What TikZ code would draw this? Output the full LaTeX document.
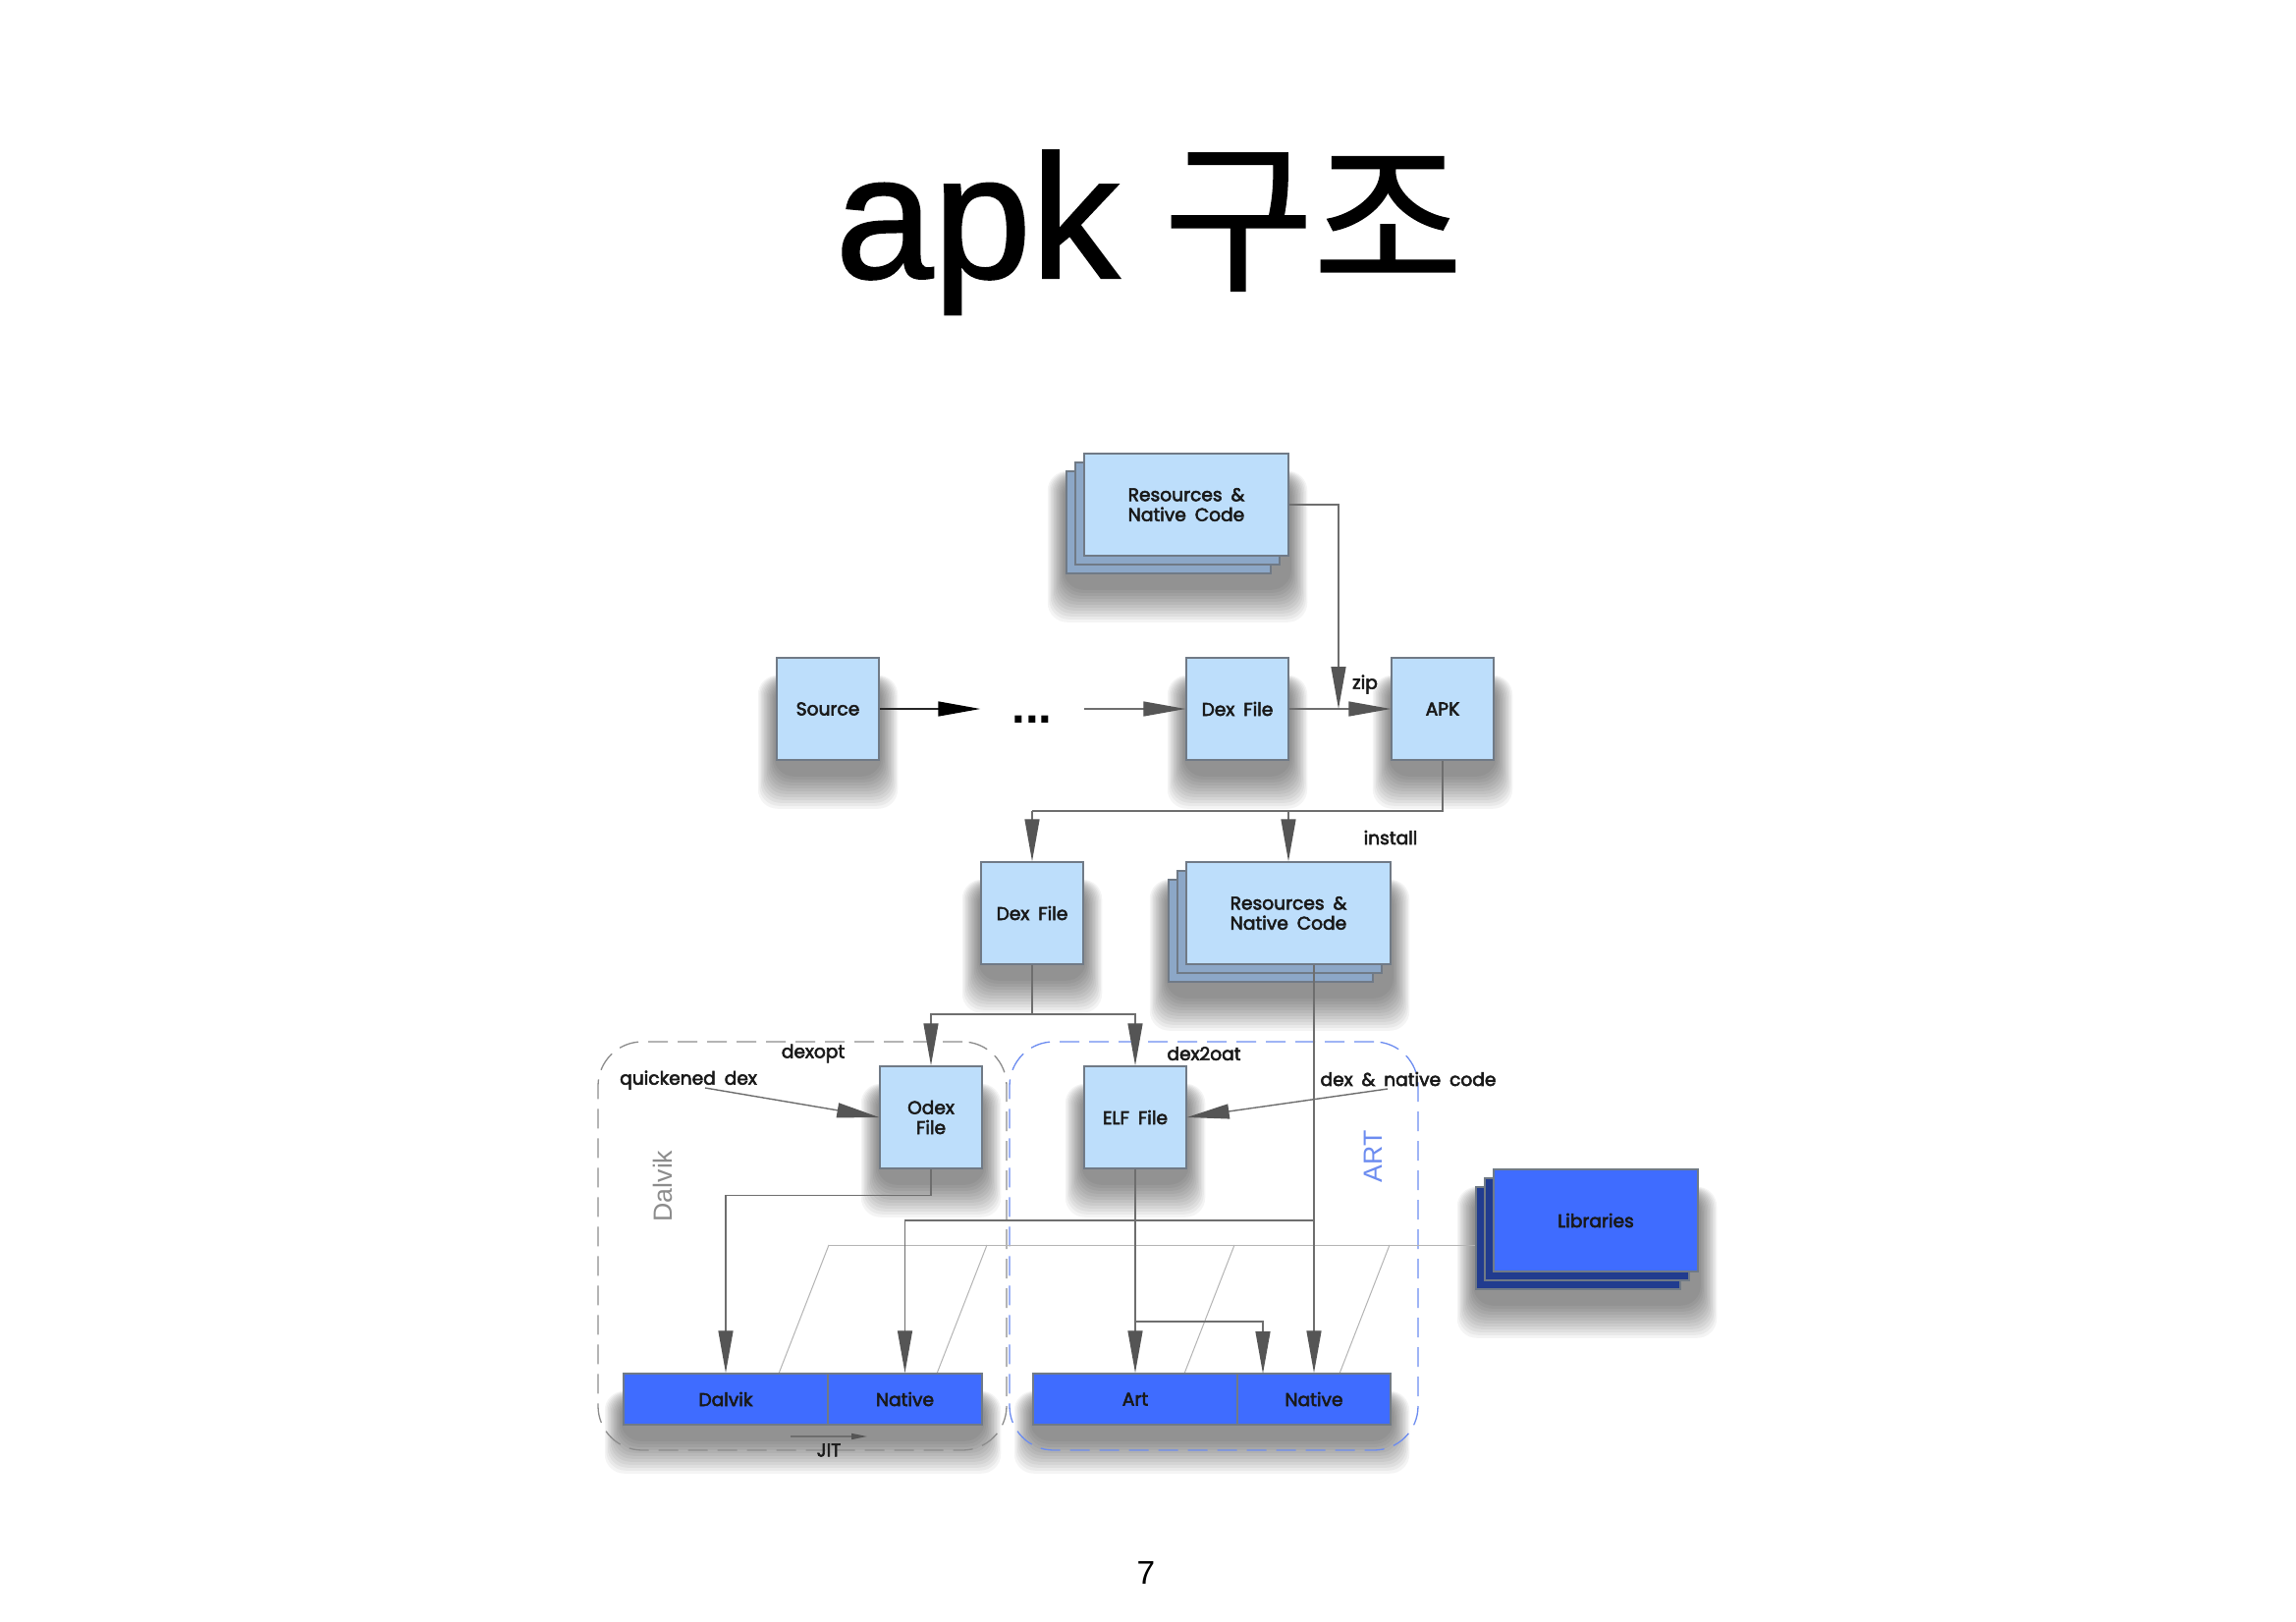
\documentclass[tikz,border=0pt]{standalone}
\usepackage{fontspec}
\usetikzlibrary{arrows.meta, shadows, calc}

\newfontfamily\latfont{Liberation Sans}
\newfontfamily\titlefont[FakeBold=1.2]{Liberation Sans}
\newfontfamily\korfont[FakeBold=1.2]{Noto Sans CJK KR}
\newfontfamily\boxfont[WordSpace=1.8, FakeBold=3]{Poppins}

\definecolor{boxblue}{HTML}{BDDEFB}
\definecolor{stackblue}{HTML}{8CA7C7}
\definecolor{barblue}{HTML}{3F6CFF}
\definecolor{navy}{HTML}{213C8F}
\definecolor{edgegray}{HTML}{707A86}
\definecolor{linegray}{HTML}{6E6E6E}
\definecolor{tipgray}{HTML}{555555}
\definecolor{thingray}{HTML}{B4B4B4}
\definecolor{frameblue}{HTML}{6C8CF0}
\definecolor{framegray}{HTML}{8C8C8C}

\pgfdeclarelayer{bg}
\pgfsetlayers{bg,main}

\tikzset{
  boxbase/.style={line width=0.15mm, inner sep=0pt, align=center,
      text=black!90, font=\boxfont\fontsize{5.3}{5.8}\selectfont},
  filebox/.style={boxbase, draw=edgegray, fill=boxblue,
      minimum width=10.4mm, minimum height=10.4mm},
  stackbox/.style={boxbase, draw=edgegray, fill=boxblue,
      minimum width=20.8mm, minimum height=10.4mm,
      double copy shadow={shadow xshift=-0.9mm, shadow yshift=-0.9mm,
        fill=stackblue, draw=edgegray, line width=0.15mm}},
  libbox/.style={boxbase, draw=edgegray, fill=barblue,
      minimum width=20.8mm, minimum height=10.4mm,
      double copy shadow={shadow xshift=-0.9mm, shadow yshift=-0.9mm,
        fill=navy, draw=edgegray, line width=0.15mm}},
  barcell/.style={boxbase, draw=edgegray, fill=barblue, minimum height=5.2mm},
  grpframe/.style={line width=0.13mm, dash pattern=on 2mm off 1mm,
      rounded corners=4.5mm, inner sep=0pt,
      minimum width=41.6mm, minimum height=41.6mm},
  lbl/.style={inner sep=0pt, text=black!90,
      font=\boxfont\fontsize{5.3}{5.8}\selectfont},
  side/.style={rotate=90, inner sep=0pt, font=\latfont\fontsize{7.6}{7.6}\selectfont},
  line/.style={draw=linegray, line width=0.14mm},
  arr/.style={line, -{Triangle[length=4.3mm, width=1.5mm, color=tipgray]}},
  blackarr/.style={draw=black!85, line width=0.14mm,
      -{Triangle[length=4.3mm, width=1.5mm, color=black]}},
  jitarr/.style={line, -{Triangle[length=1.6mm, width=0.6mm, color=tipgray]}},
  perspline/.style={draw=thingray, line width=0.1mm},
  haze/.style={fill=black, opacity=0.045, rounded corners=2mm}
}

\begin{document}
\begin{tikzpicture}[x=0.1mm, y=-0.1mm]

    \useasboundingbox (0,0) rectangle (2338,1652);

    % title and page number
    \node[anchor=base west, inner sep=0pt] (title) at (850,283)
        {{\titlefont\fontsize{51}{51}\selectfont apk}\hspace{13pt}{\korfont\fontsize{47}{47}\selectfont 구조}};
    \node[anchor=base, inner sep=0pt, font=\latfont\fontsize{9.5}{9.5}\selectfont] (pagenum) at (1167,1613) {7};

    % runtime frames
    \node[grpframe, draw=framegray] (dvmgrp) at (817,1269) {};
    \node[grpframe, draw=frameblue] (artgrp) at (1236,1269) {};
    \node[side, text=framegray] (dvmlbl) at (675,1208) {Dalvik};
    \node[side, text=frameblue] (artlbl) at (1398,1178) {ART};

    % perspective lines to the libraries
    \coordinate (perspL) at (844,1268);
    \coordinate (libin) at (1503,1268);
    \draw[perspline] (perspL) -- (libin);
    \foreach \x in {844,1005,1257,1415}
        \draw[perspline] (\x,1268) -- ++(-51,131);

    % build
    \node[stackbox] (resa) at (1208,514) {Resources \&\\Native Code};
    \node[filebox] (src) at (843,722) {Source};
    \node[inner sep=0pt, minimum width=10.4mm, text height=2.8mm, text depth=0pt,
          font=\latfont\bfseries\fontsize{14}{14}\selectfont] (dots) at (1051,722) {...};
    \node[filebox] (dexa) at (1260,722) {Dex File};
    \node[filebox] (apk) at (1469,722) {APK};

    % install
    \node[filebox] (dexb) at (1051,930) {Dex File};
    \node[stackbox] (resb) at (1312,930) {Resources \&\\Native Code};

    \node[filebox] (odex) at (948,1138) {Odex\\File};
    \node[filebox] (elf) at (1156,1138) {ELF File};

    \node[barcell, minimum width=20.8mm] (dvm) at (739,1425) {Dalvik};
    \node[barcell, minimum width=15.7mm] (dnat) at (921.5,1425) {Native};
    \node[barcell, minimum width=20.8mm] (art) at (1156,1425) {Art};
    \node[barcell, minimum width=15.6mm] (anat) at (1338,1425) {Native};

    \node[libbox] (libs) at (1625,1243) {Libraries};

    % labels
    \node[lbl] (zip) at (1390,697) {zip};
    \node[lbl] (install) at (1416,853) {install};
    \node[lbl] (dexopt) at (828,1073) {dexopt};
    \node[lbl] (dex2oat) at (1226,1073) {dex2oat};
    \node[lbl] (qdex) at (701,1100) {quickened dex};
    \node[lbl] (dexnat) at (1434,1099) {dex \& native code};
    \node[lbl] (jit) at (844,1477) {JIT};

    % connectors
    \draw[blackarr] (src) -- (dots);
    \draw[arr] (dots) -- (dexa);
    \draw[arr] (dexa) -- (apk);

    \coordinate (zipin) at (1363,722);
    \draw[arr] (resa.east) -| (zipin);

    \coordinate (instbus) at (1051,826);
    \draw[line] (apk.south) |- (instbus);
    \draw[arr] (instbus) -- (dexb.north);
    \draw[arr] (instbus -| resb.north) -- (resb.north);

    \coordinate (optbus) at (1051,1033);
    \draw[line] (dexb.south) -- (optbus);
    \draw[arr] (optbus) -| (odex.north);
    \draw[arr] (optbus) -| (elf.north);

    \coordinate (qdin) at (718,1108);
    \coordinate (dnin) at (1413,1109);
    \draw[arr] (qdin) -- (odex.west);
    \draw[arr] (dnin) -- (elf.east);

    \draw[arr] (odex.south) -- ++(0,27) -| (dvm.north);

    \coordinate (natbus) at (1338,1243);
    \draw[arr] (resb.south -| anat.north) -- (anat.north);
    \draw[arr] (natbus) -| (dnat.north);

    \coordinate (elfbus) at (1156,1346);
    \coordinate (artnatin) at (1286,1399);
    \draw[arr] (elf.south) -- (art.north);
    \draw[arr] (elfbus) -| (artnatin);

    \coordinate (jitfrom) at (805,1463);
    \coordinate (jitto) at (883,1463);
    \draw[jitarr] (jitfrom) -- (jitto);

    % soft shadows under the boxes
    \begin{pgfonlayer}{bg}
        \fill[white] (0,0) rectangle (2338,1652);
        \foreach \a/\b/\d in {src/src/0, dexa/dexa/0, apk/apk/0, dexb/dexb/0,
                odex/odex/0, elf/elf/0, dvm/dnat/0, art/anat/0,
                resa/resa/18, resb/resb/18, libs/libs/18}
            \foreach \k in {0,...,11}
                \fill[haze] ($(\a.south west)+(-\d-\k*1.5-2, \d+\k*3+16)$)
                    rectangle ($(\b.north east)+(\k*1.5+2, 24-\k*0.5)$);
    \end{pgfonlayer}

\end{tikzpicture}
\end{document}
